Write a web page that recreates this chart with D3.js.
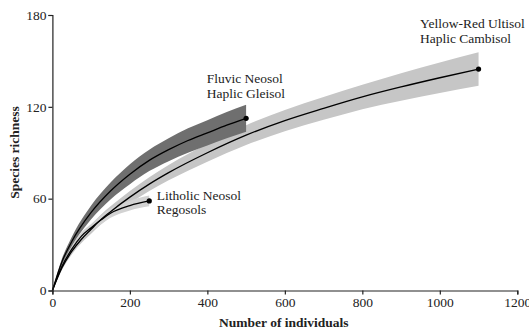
<!DOCTYPE html>
<html>
<head>
<meta charset="utf-8">
<script src="https://cdn.jsdelivr.net/npm/d3@7"></script>
<style>
  body { margin: 0; background: #fff; }
  text { font-family: 'Liberation Serif', 'Times New Roman', serif; }
</style>
</head>
<body>
<div id="chart"></div>
<script>
// rarefaction curves: number of individuals vs species richness
const xTicks = [0, 200, 400, 600, 800, 1000, 1200]
const yTicks = [0, 60, 120, 180]

const fluvicN = [0, 25, 50, 100, 150, 200, 250, 300, 350, 400, 450, 500]
const fluvicS = [0, 19, 32, 51, 65, 76, 85, 92, 98, 103, 108, 112.5]
const fluvicLo = [0, 17, 29, 46.5, 59.5, 69.5, 78, 84.5, 90, 94.7, 99.4, 103.7]
const fluvicHi = [0, 21, 35, 55.5, 70.5, 82.5, 92, 99.5, 106, 111.3, 116.6, 121.3]

const yellowN = [0, 25, 50, 75, 100, 125, 150, 200, 250, 300, 400, 500, 600, 700, 800, 900, 1000, 1100]
const yellowS = [0, 15, 25.5, 33.5, 40, 46.3, 51.5, 61, 69.5, 77, 90, 101.5, 111, 119, 126.5, 133, 139, 144.7]
const yellowLo = [0, 13.5, 23.5, 31, 37, 43.1, 48, 57, 65, 72, 84.2, 95, 104, 111.5, 118.5, 124, 129, 133.7]
const yellowHi = [0, 16.5, 27.5, 36, 43, 49.5, 55, 65, 74, 82, 95.8, 108, 118, 126.5, 134.5, 142, 149, 155.7]

const litholicN = [0, 25, 50, 75, 100, 125, 150, 200, 250]
const litholicS = [0, 16, 27, 35.5, 41, 46, 50.5, 55.5, 58.5]
const litholicLo = [0, 14.5, 25, 33, 38.5, 43.2, 47.5, 52.3, 55]
const litholicHi = [0, 17.5, 29, 38, 43.5, 48.8, 53.5, 58.7, 62]

const labels = [
  ['Yellow-Red Ultisol', 'Haplic Cambisol'],
  ['Fluvic Neosol', 'Haplic Gleisol'],
  ['Litholic Neosol', 'Regosols']
]

const W = 529, H = 332
const margin = { top: 15, right: 11.7, bottom: 41.5, left: 52.4 }
const width = W - margin.left - margin.right
const height = H - margin.top - margin.bottom

const svg = d3.select('#chart')
  .append('svg')
  .attr('width', W)
  .attr('height', H)
  .append('g')
  .attr('transform', 'translate(' + margin.left + ',' + margin.top + ')')

const xScale = d3.scaleLinear().domain([0, 1200]).range([0, width])
const yScale = d3.scaleLinear().domain([0, 180]).range([height, 0])

function rows(n, s, lo, hi) {
  return n.map((d, i) => ({ n: d, s: s[i], lo: lo[i], hi: hi[i] }))
}

const series = [
  { data: rows(yellowN, yellowS, yellowLo, yellowHi), fill: '#c6c6c6' },
  { data: rows(litholicN, litholicS, litholicLo, litholicHi), fill: '#d2d2d2' },
  { data: rows(fluvicN, fluvicS, fluvicLo, fluvicHi), fill: '#6f6f6f' }
]

const area = d3.area()
  .x(d => xScale(d.n))
  .y0(d => yScale(d.lo))
  .y1(d => yScale(d.hi))
  .curve(d3.curveMonotoneX)

const line = d3.line()
  .x(d => xScale(d.n))
  .y(d => yScale(d.s))
  .curve(d3.curveMonotoneX)

series.forEach(sr => {
  svg.append('path')
    .datum(sr.data)
    .attr('d', area)
    .attr('fill', sr.fill)
})

series.forEach(sr => {
  svg.append('path')
    .datum(sr.data)
    .attr('d', line)
    .attr('fill', 'none')
    .attr('stroke', '#000')
    .attr('stroke-width', 1.3)
  const last = sr.data[sr.data.length - 1]
  svg.append('circle')
    .attr('cx', xScale(last.n))
    .attr('cy', yScale(last.s))
    .attr('r', 2.6)
    .attr('fill', '#000')
})

// axes
const xAxis = d3.axisBottom(xScale).tickValues(xTicks).tickSize(4).tickPadding(3).tickFormat(d3.format('d'))
const yAxis = d3.axisLeft(yScale).tickValues(yTicks).tickSize(4).tickPadding(2).tickFormat(d3.format('d'))

const gx = svg.append('g').attr('transform', `translate(0,${height})`).call(xAxis)
const gy = svg.append('g').call(yAxis)
;[gx, gy].forEach(g => {
  g.select('.domain').attr('stroke', '#222').attr('stroke-width', 1.2)
  g.selectAll('.tick line').attr('stroke', '#222').attr('stroke-width', 1.2)
  g.selectAll('.tick text')
    .attr('font-family', "'Liberation Serif', serif")
    .attr('font-size', 13.5)
    .attr('fill', '#222')
})

svg.append('text')
  .attr('x', width / 2 - 1)
  .attr('y', height + 36.5)
  .attr('text-anchor', 'middle')
  .attr('font-size', 13.5)
  .attr('font-weight', 'bold')
  .attr('fill', '#222')
  .text('Number of individuals')

svg.append('text')
  .attr('transform', `translate(${-margin.left + 18.5},${152.5 - margin.top}) rotate(-90)`)
  .attr('text-anchor', 'middle')
  .attr('font-size', 13.5)
  .attr('font-weight', 'bold')
  .attr('fill', '#222')
  .text('Species richness')

// curve labels
const labelPos = [[420, 28.3], [206.7, 83.3], [156.7, 200]]
labels.forEach((lab, i) => {
  const t = svg.append('text')
    .attr('font-size', 13.5)
    .attr('fill', '#222')
  lab.forEach((s, j) => {
    t.append('tspan')
      .attr('x', labelPos[i][0] - margin.left)
      .attr('y', labelPos[i][1] - margin.top + j * 14.4)
      .text(s)
  })
})
</script>
</body>
</html>
